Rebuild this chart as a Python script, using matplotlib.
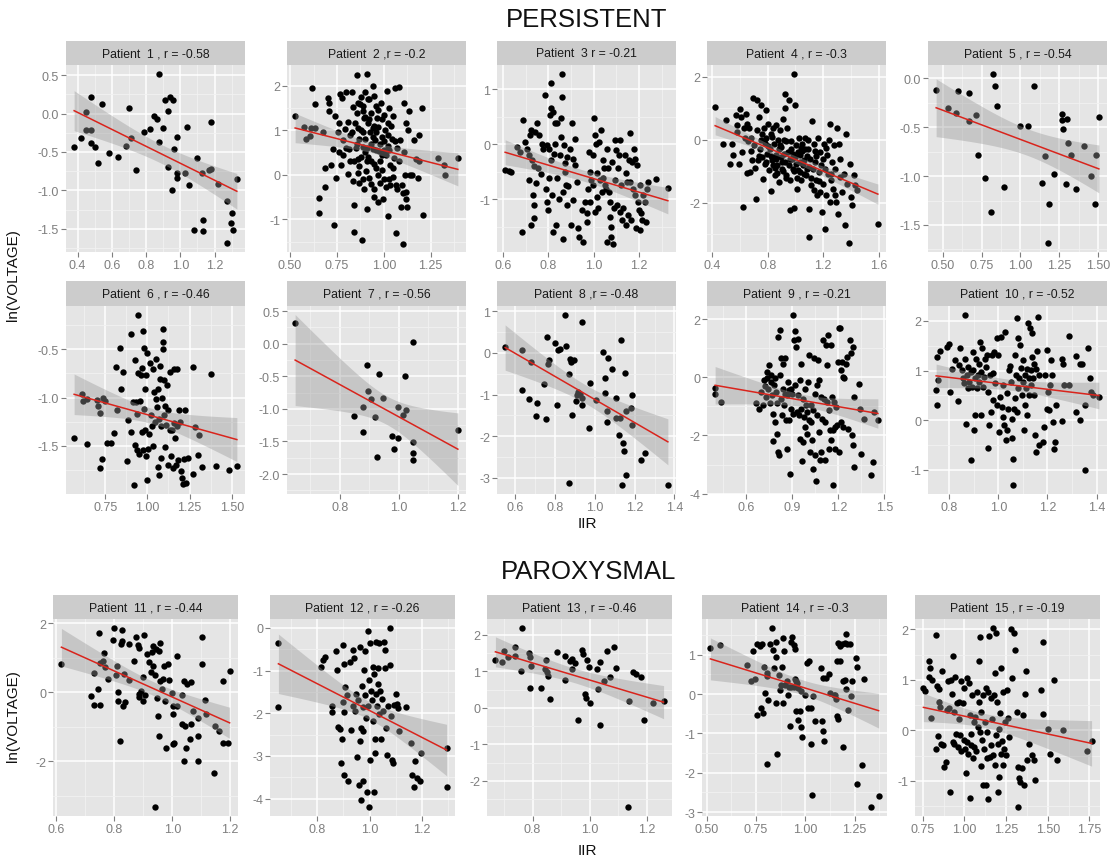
import numpy as np
import matplotlib
matplotlib.use("Agg")
import matplotlib.pyplot as plt

plt.rcParams['font.family'] = ['Liberation Sans', 'DejaVu Sans']

# ---------------- data (IIR, ln(VOLTAGE)) per patient ----------------
P01 = [(0.38,-0.43),(0.42,-0.32),(0.447,0.017),(0.447,-0.21),(0.48,0.21),(0.48,-0.21),(0.48,-0.38),
       (0.50,-0.43),(0.52,-0.64),(0.54,0.12),(0.585,-0.51),(0.634,-0.56),(0.683,-0.42),(0.70,0.07),
       (0.71,-0.32),(0.74,-0.73),(0.786,-0.24),(0.825,-0.20),(0.849,-0.03),(0.864,-0.07),(0.878,-0.375),
       (0.878,0.52),(0.90,-0.19),(0.913,0.18),(0.927,0.03),(0.942,0.21),(0.96,0.17),(0.964,-0.46),
       (0.983,-0.31),(0.927,-0.70),(0.983,-0.78),(0.983,-0.845),(0.954,-0.99),(1.026,-0.77),(1.04,-0.18),
       (1.05,-0.93),(1.08,-1.52),(1.10,-0.58),(1.124,-0.78),(1.13,-1.39),(1.13,-1.53),(1.167,-0.73),
       (1.18,-0.72),(1.18,-0.11),(1.22,-0.92),(1.27,-1.14),(1.30,-1.29),(1.295,-1.42),(1.305,-1.52),
       (1.27,-1.69),(1.33,-0.85)]
P02 = [(0.527,1.32),(0.573,1.08),(0.585,0.81),(0.61,1.04),(0.606,0.86),(0.633,1.05),(0.615,1.95),
       (0.635,1.58),(0.652,-0.52),(0.652,-0.85),(0.677,0.96),(0.688,-0.27),(0.70,1.73),(0.705,1.6),
       (0.71,1.42),(0.727,0.58),(0.688,0.15),(0.718,0.23),(0.736,-1.12),(0.74,1.31),(0.753,0.96),
       (0.745,-0.08),(0.766,1.81),(0.762,1.15),(0.77,0.23),(0.777,1.73),(0.784,0.77),(0.791,1.02),
       (0.80,1.85),(0.808,1.19),(0.816,0.58),(0.808,0.02),(0.819,0.32),(0.83,1.85),(0.83,0.96),
       (0.837,1.52),(0.833,-0.15),(0.839,-0.67),(0.842,-1.29),(0.848,1.15),(0.855,1.38),(0.855,2.23),
       (0.858,0.69),(0.863,0.35),(0.865,-0.19),(0.872,1.58),(0.879,1.0),(0.883,-1.46),(0.887,1.42),
       (0.89,0.62),(0.892,-0.31),(0.895,1.27),(0.90,1.85),(0.90,0.81),(0.904,0.08),(0.908,-0.77),
       (0.911,2.27),(0.913,1.15),(0.915,1.69),(0.918,0.4),(0.922,-0.08),(0.926,0.96),(0.93,1.38),
       (0.94,2.0),(0.943,0.58),(0.947,-0.31),(0.95,1.77),(0.954,0.77),(0.957,1.54),(0.96,0.15),
       (0.966,1.27),(0.97,1.08),(0.975,0.54),(0.98,-0.19),(0.984,1.62),(0.988,0.85),(0.993,0.45),
       (0.996,-0.54),(1.0,1.35),(1.007,1.0),(1.01,-0.27),(1.016,1.88),(1.02,0.65),(1.023,-0.92),
       (1.028,1.5),(1.032,0.23),(1.035,-0.23),(1.043,0.81),(1.05,1.31),(1.055,0.38),(1.06,1.94),
       (1.064,-0.23),(1.067,-1.31),(1.073,-0.31),(1.08,1.96),(1.087,0.77),(1.09,-0.73),(1.096,-0.23),
       (1.103,-1.54),(1.106,1.62),(1.11,0.5),(1.113,0.0),(1.117,-0.38),(1.12,1.15),(1.124,-0.73),
       (1.13,1.0),(1.135,1.42),(1.14,0.0),(1.15,0.0),(1.16,0.77),(1.17,0.35),(1.183,-0.08),
       (1.19,0.31),(1.19,0.9),(1.205,1.5),(1.209,-0.91),(1.29,0.38),(1.32,0.23),(1.324,0.0),
       (1.395,0.37),(0.86,1.62),(0.88,1.75),(0.89,1.55),(0.9,1.3),(0.92,1.7),(0.93,0.7),(0.95,1.1),
       (0.96,0.55),(0.97,1.45),(0.98,0.3),(0.99,1.25),(1.0,0.75),(1.02,1.15),(1.03,0.55),(0.82,0.9),
       (0.85,0.6),(0.86,1.05),(0.87,0.8),(0.88,0.4),(0.89,0.95),(0.91,0.6),(0.93,0.3),(0.94,1.05),
       (0.87,0.2),(0.89,-0.1),(0.91,0.3),(0.93,-0.2),(0.95,0.25),(0.97,0.0),(0.99,0.1),(1.01,0.45),
       (1.03,-0.1),(1.05,0.15),(1.07,0.6),(1.08,0.3),(0.92,1.25),(0.94,0.85),(0.96,0.95),(0.98,0.7),
       (1.0,0.55),(1.02,0.9),(1.04,1.1),(1.06,0.75),(0.84,0.3),(0.86,0.05),(0.9,0.5),(0.95,-0.5),
       (0.97,-0.6),(1.0,-0.1),(1.05,-0.05),(1.1,-0.4),(1.12,-0.55),(0.78,0.45),(0.8,0.6),(0.76,0.5)]
P03 = [(0.61,-0.47),(0.625,-0.49),(0.635,-0.50),(0.661,-0.05),(0.676,-0.14),(0.688,0.44),(0.683,-1.60),
       (0.698,0.04),(0.705,-0.08),(0.713,-0.20),(0.713,-0.65),(0.72,0.16),(0.723,0.26),(0.723,-1.47),
       (0.727,-0.29),(0.732,-0.93),(0.735,-1.11),(0.735,-1.35),(0.738,-0.39),(0.742,0.23),(0.746,-0.71),
       (0.752,0.38),(0.757,-0.44),(0.761,0.16),(0.767,-0.55),(0.771,0.01),(0.779,-0.08),(0.786,0.90),
       (0.789,-0.81),(0.793,-0.02),(0.796,-1.05),(0.80,-1.20),(0.803,-0.08),(0.805,-0.62),(0.808,0.53),
       (0.81,1.11),(0.81,0.67),(0.814,-0.29),(0.817,-0.92),(0.82,-1.60),(0.822,0.59),(0.825,-0.17),
       (0.828,0.01),(0.83,0.38),(0.834,-1.47),(0.837,-0.62),(0.84,0.38),(0.846,-0.99),(0.852,-0.20),
       (0.855,0.47),(0.858,0.13),(0.86,1.29),(0.86,0.87),(0.863,-1.72),(0.866,-0.87),(0.869,-0.02),
       (0.872,-0.35),(0.875,-0.50),(0.878,-0.74),(0.881,-1.11),(0.884,-0.23),(0.888,-0.77),(0.896,-0.08),
       (0.899,-1.47),(0.903,0.38),(0.907,-0.26),(0.91,-1.02),(0.916,0.10),(0.92,-0.38),(0.925,-0.68),
       (0.932,-1.53),(0.937,-1.69),(0.947,-1.20),(0.954,-1.78),(0.961,-1.05),(0.969,-1.41),(0.972,-1.26),
       (0.976,-0.81),(0.98,-0.14),(0.983,-0.50),(0.986,-1.05),(0.99,-0.65),(0.995,-0.20),(0.998,-0.74),
       (1.0,0.47),(1.004,-1.23),(1.005,0.17),(1.01,0.01),(1.013,-0.53),(1.016,-0.96),(1.018,-1.17),
       (1.024,0.04),(1.027,-0.65),(1.032,0.26),(1.035,-0.87),(1.039,-0.29),(1.042,-0.62),(1.045,-0.44),
       (1.049,-0.74),(1.054,-0.81),(1.057,-1.78),(1.06,-0.08),(1.064,-0.44),(1.068,-0.87),(1.071,-1.05),
       (1.074,-1.32),(1.077,-1.50),(1.078,-1.69),(1.083,-0.32),(1.086,-1.81),(1.089,-1.17),(1.092,0.07),
       (1.095,-0.65),(1.10,-0.11),(1.103,-1.11),(1.108,-0.44),(1.112,-0.20),(1.115,0.07),(1.118,-1.23),
       (1.122,-0.74),(1.127,-1.38),(1.13,-1.17),(1.137,-0.20),(1.142,-0.53),(1.144,-1.47),(1.147,-0.68),
       (1.152,-1.29),(1.156,-0.29),(1.159,0.20),(1.162,-0.68),(1.166,-1.38),(1.171,-0.32),(1.174,-0.81),
       (1.177,-0.08),(1.18,-0.93),(1.182,-0.26),(1.188,-1.53),(1.191,-0.38),(1.194,-1.05),(1.199,-1.20),
       (1.203,-1.56),(1.206,-0.74),(1.21,-1.26),(1.215,-1.38),(1.218,-0.93),(1.225,-1.05),(1.232,-1.41),
       (1.237,-0.81),(1.24,-0.68),(1.276,-0.64),(1.327,-0.79)]
P04 = [(0.42,1.03),(0.477,-0.12),(0.50,0.62),(0.527,-0.76),(0.544,-0.12),(0.55,-0.49),(0.568,0.80),
       (0.575,0.46),(0.58,0.25),(0.592,-0.76),(0.60,0.99),(0.61,0.73),(0.616,-0.39),(0.623,-2.14),
       (0.628,0.36),(0.633,0.05),(0.64,0.83),(0.647,0.51),(0.652,-1.05),(0.657,-0.05),(0.664,0.36),
       (0.671,-1.02),(0.676,0.05),(0.68,-0.37),(0.688,-0.65),(0.695,1.33),(0.70,-0.18),(0.705,-0.9),
       (0.712,-1.87),(0.719,1.26),(0.724,0.30),(0.729,-0.65),(0.736,0.73),(0.743,-0.28),(0.748,1.12),
       (0.753,0.0),(0.76,-0.55),(0.765,-1.24),(0.772,0.36),(0.777,-0.76),(0.784,0.94),(0.789,0.05),
       (0.796,-0.44),(0.80,0.51),(0.808,-0.97),(0.815,-0.28),(0.82,0.17),(0.825,-1.64),(0.832,-0.65),
       (0.839,0.36),(0.844,-0.12),(0.849,-1.13),(0.856,-0.47),(0.863,0.46),(0.868,-0.81),(0.873,0.0),
       (0.88,-1.34),(0.887,0.30),(0.892,-0.55),(0.897,-0.23),(0.904,-0.92),(0.911,0.67),(0.916,0.0),
       (0.921,1.47),(0.923,1.01),(0.928,-0.71),(0.935,-1.13),(0.94,0.36),(0.945,-0.39),(0.952,1.26),
       (0.957,-1.29),(0.964,-2.24),(0.969,-0.05),(0.976,-0.60),(0.983,-0.92),(0.988,-2.17),(0.993,2.11),
       (0.998,1.10),(1.002,-0.18),(1.007,-0.76),(1.012,-1.55),(1.017,-0.39),(1.024,0.05),(1.031,-1.02),
       (1.036,-0.49),(1.043,-1.29),(1.048,-0.12),(1.055,-0.81),(1.06,-0.65),(1.067,0.05),(1.072,-0.28),
       (1.079,-1.13),(1.084,-0.92),(1.089,0.0),(1.096,-2.19),(1.10,-3.09),(1.108,-0.60),(1.113,-1.45),
       (1.12,0.59),(1.125,-0.92),(1.132,-1.61),(1.137,-0.12),(1.144,-0.71),(1.151,-1.29),(1.156,-1.77),
       (1.161,0.05),(1.168,-1.02),(1.175,-1.66),(1.18,-0.39),(1.185,-0.81),(1.192,-2.30),(1.199,-1.40),
       (1.204,-0.12),(1.211,-2.83),(1.216,-0.92),(1.223,-1.77),(1.228,-0.49),(1.235,-1.08),(1.24,0.0),
       (1.247,-1.98),(1.252,0.51),(1.257,-1.29),(1.264,-0.71),(1.271,-1.55),(1.276,-0.18),(1.283,-1.77),
       (1.288,-0.92),(1.295,-1.98),(1.30,0.36),(1.307,-2.35),(1.312,-0.12),(1.319,-1.18),(1.324,-0.60),
       (1.336,-1.66),(1.348,-1.08),(1.36,-2.72),(1.367,0.20),(1.372,-1.40),(1.384,-3.3),(1.391,-0.76),
       (1.40,-1.82),(1.41,-2.08),(1.42,-1.13),(1.432,-1.45),(1.444,-1.61),(1.595,-2.67),
       (0.78,-0.1),(0.82,-0.5),(0.85,-0.9),(0.88,-0.3),(0.9,-0.7),(0.92,-0.45),(0.95,-0.8),(0.97,-0.3),
       (0.99,-1.0),(1.0,-0.55),(1.03,-0.7),(1.05,-0.35),(1.08,-0.5),(1.1,-0.85),(1.15,-0.5),(1.2,-0.6),
       (0.86,-0.6),(0.91,-1.0),(0.96,-0.6),(1.01,-1.2),(0.74,-0.5),(0.8,-0.2),(0.84,-0.8),(0.93,-1.2),
       (0.76,0.2),(0.79,-0.7),(0.83,0.1),(0.87,-1.05),(0.89,-0.15),(0.93,-0.05),(0.98,-0.45),(1.02,-0.95),
       (1.04,-0.25),(1.06,-1.1),(1.09,-0.3),(1.11,-1.2),(1.14,-0.35),(1.17,-1.3),(1.22,-0.25),(1.26,-1.1)]
P05 = [(0.457,-0.12),(0.532,-0.30),(0.582,-0.35),(0.597,-0.13),(0.668,-0.15),(0.668,-0.44),(0.711,-0.375),
       (0.726,-0.78),(0.775,-1.02),(0.812,-1.37),(0.823,0.05),(0.838,-0.075),(0.85,-0.28),(0.894,-1.11),
       (0.999,-0.49),(1.048,-0.49),(1.091,-0.075),(1.139,-1.07),(1.156,-0.79),(1.182,-1.29),(1.177,-1.69),
       (1.216,-0.98),(1.268,-0.36),(1.268,-0.43),(1.30,-0.42),(1.278,-0.52),(1.306,-0.66),(1.291,-1.08),
       (1.328,-0.78),(1.36,-1.13),(1.408,-0.69),(1.457,-1.0),(1.485,-0.78),(1.483,-1.285),(1.506,-0.40)]
P06 = [(0.566,-1.42),(0.612,-0.96),(0.618,-1.04),(0.645,-1.01),(0.645,-1.48),(0.704,-1.03),(0.707,-1.09),
       (0.717,-1.16),(0.72,-1.73),(0.73,-1.64),(0.735,-1.0),(0.746,-1.04),(0.763,-1.47),(0.785,-1.47),
       (0.80,-1.37),(0.812,-0.68),(0.819,-1.13),(0.839,-0.49),(0.843,-0.91),(0.858,-0.73),(0.878,-1.66),
       (0.888,-1.23),(0.902,-0.34),(0.904,-1.36),(0.914,-1.05),(0.918,-1.91),(0.924,-1.49),(0.928,-0.61),
       (0.934,-1.05),(0.938,-1.54),(0.941,-1.17),(0.943,-0.75),(0.947,-0.14),(0.953,-1.58),(0.957,-1.04),
       (0.96,-0.77),(0.967,-1.36),(0.97,-0.69),(0.972,-1.54),(0.976,-0.31),(0.978,-1.12),(0.98,-0.49),
       (0.984,-1.34),(0.986,-0.91),(0.99,-1.60),(0.994,-0.77),(0.996,-1.85),(1.0,-0.54),(1.006,-1.53),
       (1.01,-1.38),(1.013,-0.64),(1.022,-1.18),(1.026,-1.29),(1.032,-1.50),(1.036,-0.70),(1.04,-0.94),
       (1.046,-1.25),(1.05,-0.60),(1.052,-1.01),(1.056,-1.10),(1.06,-1.72),(1.064,-0.91),(1.066,-1.22),
       (1.07,-1.80),(1.072,-0.67),(1.076,-0.81),(1.08,-1.63),(1.082,-1.29),(1.086,-1.0),(1.09,-0.50),
       (1.092,-0.42),(1.094,-0.29),(1.096,-1.18),(1.10,-0.82),(1.104,-1.09),(1.107,-1.51),(1.111,-1.28),
       (1.115,-0.87),(1.121,-1.13),(1.125,-1.70),(1.131,-1.34),(1.135,-0.74),(1.139,-1.60),(1.145,-1.34),
       (1.149,-1.73),(1.155,-0.70),(1.159,-1.26),(1.164,-1.42),(1.168,-1.70),(1.174,-0.70),(1.178,-1.29),
       (1.184,-1.65),(1.188,-1.13),(1.194,-1.25),(1.198,-1.76),(1.204,-1.83),(1.21,-1.89),(1.214,-1.64),
       (1.224,-1.13),(1.23,-1.88),(1.243,-1.63),(1.27,-1.79),(1.273,-0.68),(1.283,-1.30),(1.297,-1.59),
       (1.308,-1.39),(1.322,-1.72),(1.376,-0.76),(1.408,-1.71),(1.486,-1.75),(1.53,-1.71)]
P07 = [(0.648,0.32),(0.892,-0.33),(0.896,-0.72),(0.904,-0.85),(0.879,-0.97),(0.846,-1.11),(0.918,-1.13),
       (0.932,-0.47),(0.945,-0.84),(0.879,-1.36),(0.926,-1.74),(0.977,-1.42),(0.983,-1.62),(0.998,-1.45),
       (0.996,-0.97),(1.013,-1.09),(1.024,-1.01),(1.022,-0.49),(1.049,0.03),(1.049,-1.51),(1.047,-1.67),
       (1.047,-1.79),(1.20,-1.32)]
P08 = [(0.55,0.14),(0.637,0.06),(0.633,-0.88),(0.68,-0.22),(0.672,-1.11),(0.712,-1.20),(0.705,-1.52),
       (0.745,-0.75),(0.755,-1.58),(0.758,0.38),(0.767,-0.26),(0.772,-0.16),(0.80,0.24),(0.808,-1.24),
       (0.817,0.06),(0.825,0.10),(0.85,0.92),(0.855,0.16),(0.872,-0.50),(0.872,-3.12),(0.878,-0.14),
       (0.883,-0.22),(0.888,-1.50),(0.895,-0.16),(0.905,-1.16),(0.912,-1.0),(0.917,-0.94),(0.925,-0.98),
       (0.937,-1.08),(0.937,-1.26),(0.938,0.73),(0.97,-1.79),(0.978,-0.72),(1.005,-1.12),(1.042,0.02),
       (1.05,-0.96),(1.053,-0.60),(1.065,-0.13),(1.063,-1.40),(1.062,-1.65),(1.088,-0.39),(1.108,-1.08),
       (1.108,-1.57),(1.122,-1.98),(1.125,-1.56),(1.133,0.30),(1.142,-2.17),(1.145,-2.35),(1.138,-3.18),
       (1.15,-0.48),(1.158,-1.40),(1.158,-2.93),(1.183,-1.32),(1.187,-1.0),(1.188,-1.73),(1.233,-2.56),
       (1.25,-2.41),(1.367,-3.18)]
P09 = [(0.40,-0.37),(0.40,-0.56),(0.438,-0.85),(0.665,-0.87),(0.686,-1.08),(0.697,-0.50),(0.708,-0.96),
       (0.719,-0.09),(0.723,-0.29),(0.73,-0.68),(0.736,0.20),(0.74,-0.03),(0.745,-0.39),(0.751,0.44),
       (0.758,-0.90),(0.762,-0.15),(0.766,0.08),(0.771,-0.62),(0.775,-1.25),(0.779,-2.20),(0.783,-0.25),
       (0.788,-0.03),(0.792,-1.54),(0.796,-0.50),(0.80,-1.94),(0.805,-0.90),(0.81,-2.57),(0.811,1.39),
       (0.816,-2.68),(0.82,0.08),(0.822,1.62),(0.827,-0.73),(0.83,0.65),(0.835,-1.31),(0.84,0.47),
       (0.844,-0.39),(0.848,-0.96),(0.853,0.65),(0.857,-0.56),(0.861,-1.48),(0.866,-2.45),(0.87,-0.62),
       (0.874,-0.16),(0.878,-1.48),(0.883,-0.45),(0.887,-3.32),(0.891,-0.39),(0.896,-1.08),(0.90,-0.56),
       (0.904,2.16),(0.909,-1.25),(0.913,1.28),(0.917,1.59),(0.922,-0.27),(0.926,1.05),(0.93,-1.19),
       (0.935,1.33),(0.939,-0.62),(0.943,-1.31),(0.948,-2.11),(0.952,-0.10),(0.956,0.47),(0.96,-1.08),
       (0.965,-2.89),(0.969,-0.73),(0.973,-2.22),(0.978,-1.36),(0.982,-0.39),(0.986,-1.71),(0.99,-0.96),
       (0.995,-1.94),(0.999,-1.19),(1.004,-0.16),(1.008,-1.48),(1.012,0.76),(1.017,-2.57),(1.021,-0.96),
       (1.025,-1.54),(1.03,-2.17),(1.034,-3.14),(1.038,-1.13),(1.043,0.65),(1.047,-0.56),(1.051,-2.68),
       (1.055,-3.55),(1.06,-1.28),(1.064,-0.27),(1.068,0.59),(1.073,-1.88),(1.077,-0.10),(1.081,-2.86),
       (1.086,-0.67),(1.09,-2.57),(1.096,-1.42),(1.103,1.28),(1.107,-0.73),(1.112,-2.86),(1.116,-1.54),
       (1.12,1.10),(1.124,0.41),(1.129,-0.85),(1.133,1.45),(1.137,-2.45),(1.142,-1.13),(1.146,-1.82),
       (1.15,1.10),(1.155,-2.17),(1.159,-0.67),(1.163,-1.82),(1.168,-3.72),(1.172,-0.85),(1.176,-2.45),
       (1.181,-1.71),(1.185,-1.02),(1.194,-1.65),(1.198,0.53),(1.202,1.68),(1.206,-2.57),(1.211,1.70),
       (1.215,-1.54),(1.22,0.24),(1.224,0.53),(1.228,-1.71),(1.232,0.02),(1.237,-0.04),(1.248,0.47),
       (1.258,0.70),(1.263,-1.77),(1.276,1.28),(1.28,0.82),(1.287,-2.0),(1.293,-2.34),(1.297,1.05),
       (1.30,-0.68),(1.30,-3.09),(1.334,-0.22),(1.34,-1.08),(1.349,-2.63),(1.366,-1.42),(1.414,-3.37),
       (1.427,-2.91),(1.435,-1.19),(1.457,-1.48)]
P10 = [(0.75,1.28),(0.753,0.81),(0.75,0.31),(0.747,0.60),(0.764,1.39),(0.80,1.53),(0.79,1.48),(0.804,0.57),
       (0.811,1.04),(0.824,1.21),(0.834,0.38),(0.842,1.12),(0.845,1.45),(0.851,1.01),(0.855,0.84),
       (0.861,0.74),(0.865,2.13),(0.866,1.24),(0.869,-0.07),(0.872,0.91),(0.876,0.64),(0.878,1.08),
       (0.882,0.77),(0.888,0.98),(0.889,-0.81),(0.892,0.67),(0.896,1.01),(0.899,1.37),(0.901,-0.2),
       (0.904,0.84),(0.907,0.10),(0.91,1.24),(0.912,0.64),(0.916,0.91),(0.92,1.14),(0.923,0.77),
       (0.926,1.58),(0.928,0.10),(0.931,0.98),(0.934,1.45),(0.936,0.67),(0.942,0.87),(0.946,1.24),
       (0.95,1.08),(0.953,1.31),(0.957,-0.56),(0.959,0.57),(0.962,-0.1),(0.966,0.91),(0.969,0.17),
       (0.973,1.31),(0.977,0.40),(0.98,0.94),(0.984,1.38),(0.986,0.74),(0.993,0.31),(0.996,1.66),
       (1.0,1.31),(1.004,-0.24),(1.007,0.47),(1.011,1.68),(1.014,0.27),(1.018,0.07),(1.02,0.71),
       (1.024,-0.1),(1.027,1.78),(1.03,-0.41),(1.034,0.54),(1.036,-0.2),(1.04,0.23),(1.045,1.01),
       (1.047,1.10),(1.051,0.77),(1.054,0.02),(1.057,-0.37),(1.058,-1.32),(1.061,-0.78),(1.064,0.23),
       (1.066,0.44),(1.069,1.31),(1.072,0.91),(1.074,0.17),(1.077,2.07),(1.08,1.65),(1.082,0.64),
       (1.085,0.84),(1.088,1.51),(1.091,1.06),(1.095,0.50),(1.099,1.21),(1.101,0.77),(1.104,-0.2),
       (1.107,0.30),(1.109,0.91),(1.112,0.64),(1.115,0.10),(1.118,1.04),(1.12,1.95),(1.123,0.50),
       (1.126,0.84),(1.128,1.85),(1.131,1.01),(1.134,0.71),(1.136,1.28),(1.139,1.75),(1.142,0.84),
       (1.145,1.14),(1.147,0.50),(1.15,-0.31),(1.153,1.04),(1.155,-0.64),(1.158,1.39),(1.161,2.09),
       (1.164,-0.51),(1.166,0.91),(1.182,-0.44),(1.185,-0.14),(1.189,0.91),(1.196,0.23),(1.20,1.41),
       (1.204,0.57),(1.207,0.20),(1.209,0.71),(1.216,1.21),(1.22,0.91),(1.223,-0.03),(1.226,-0.58),
       (1.23,-0.44),(1.236,0.30),(1.261,1.24),(1.261,-0.02),(1.264,1.14),(1.266,0.71),(1.288,1.70),
       (1.288,0.71),(1.318,1.30),(1.318,0.17),(1.331,1.14),(1.334,0.0),(1.342,1.14),(1.351,-1.0),
       (1.351,0.30),(1.365,1.45),(1.374,0.84),(1.378,0.57),(1.385,0.50),(1.409,0.47)]
P11 = [(0.617,0.82),(0.72,-0.10),(0.73,0.55),(0.73,-0.37),(0.743,0.10),(0.746,1.71),(0.751,-0.37),
       (0.749,0.83),(0.765,1.13),(0.761,0.91),(0.768,0.72),(0.779,0.38),(0.795,1.50),(0.798,1.86),
       (0.81,0.77),(0.807,0.50),(0.813,0.01),(0.812,-0.25),(0.82,-1.42),(0.822,1.40),(0.828,1.79),
       (0.828,1.48),(0.834,0.52),(0.83,-0.40),(0.837,-0.30),(0.849,1.40),(0.852,0.35),(0.868,0.91),
       (0.873,1.59),(0.883,1.38),(0.885,1.28),(0.885,-0.05),(0.885,-0.14),(0.893,0.02),(0.898,-0.25),
       (0.90,0.45),(0.904,1.66),(0.907,-0.07),(0.913,1.11),(0.92,0.86),(0.926,0.57),(0.929,1.16),
       (0.932,1.35),(0.934,0.77),(0.94,-3.33),(0.941,0.50),(0.944,1.25),(0.948,-0.16),(0.95,-0.69),
       (0.954,1.18),(0.956,1.42),(0.954,-1.27),(0.959,0.33),(0.963,0.08),(0.968,0.38),(0.974,-0.25),
       (0.971,0.77),(0.98,-1.61),(0.984,0.82),(0.99,0.35),(0.999,-0.02),(1.002,-1.51),(1.005,-1.47),
       (1.001,-0.40),(1.001,-0.62),(1.015,-0.40),(1.017,1.06),(1.032,-0.07),(1.035,-0.93),(1.04,0.33),
       (1.04,-2.0),(1.045,-0.98),(1.048,-1.61),(1.051,0.23),(1.062,-1.37),(1.066,-0.93),(1.066,0.28),
       (1.07,-0.54),(1.088,-2.0),(1.088,-1.27),(1.09,-0.74),(1.102,1.59),(1.102,0.82),(1.112,-0.22),
       (1.117,-0.62),(1.145,-2.34),(1.149,-0.98),(1.16,-1.13),(1.176,0.31),(1.174,-1.47),(1.194,-1.47),
       (1.198,0.62)]
P12 = [(0.651,-0.36),(0.651,-1.86),(0.816,-0.91),(0.82,-0.74),(0.83,-0.67),(0.855,-1.82),(0.855,-1.98),
       (0.871,-0.55),(0.874,-0.99),(0.879,-2.32),(0.892,-3.17),(0.888,-2.38),(0.895,-2.61),(0.90,-0.40),
       (0.90,-1.74),(0.901,-1.98),(0.901,-3.45),(0.903,-0.85),(0.905,-1.39),(0.912,-1.58),(0.919,-3.60),
       (0.925,-0.79),(0.929,-2.40),(0.936,-1.82),(0.938,-0.51),(0.942,-0.71),(0.946,-1.94),(0.949,-1.54),
       (0.953,-3.03),(0.956,-1.69),(0.96,-3.68),(0.963,-0.44),(0.965,-2.65),(0.967,-2.34),(0.969,-4.04),
       (0.971,-1.35),(0.974,-1.85),(0.976,-2.42),(0.976,-3.60),(0.979,-0.99),(0.982,-1.58),(0.983,-0.55),
       (0.987,-2.10),(0.99,-3.84),(0.993,-0.08),(0.994,-1.82),(0.997,-1.23),(0.998,-4.20),(1.0,-3.09),
       (1.003,-0.36),(1.006,-1.47),(1.009,-1.70),(1.012,-0.91),(1.014,-2.18),(1.017,-1.07),(1.017,-3.84),
       (1.02,-2.93),(1.022,-2.61),(1.024,-0.32),(1.025,-1.54),(1.028,-1.82),(1.031,-0.95),(1.033,-1.31),
       (1.036,-0.36),(1.037,-2.02),(1.041,-1.47),(1.044,-2.61),(1.047,-1.66),(1.051,-1.94),(1.055,-0.34),
       (1.058,-0.51),(1.06,-0.95),(1.064,-2.34),(1.068,-2.97),(1.071,-1.82),(1.077,-0.87),(1.078,0.0),
       (1.082,-2.06),(1.085,-3.09),(1.089,-3.17),(1.095,-1.80),(1.101,-1.54),(1.105,-1.78),(1.109,-1.88),
       (1.112,-2.42),(1.139,-1.85),(1.159,-2.69),(1.163,-3.45),(1.169,-3.72),(1.173,-3.11),(1.18,-3.52),
       (1.193,-3.60),(1.196,-2.93),(1.295,-2.81),(1.295,-3.74)]
P13 = [(0.67,1.31),(0.692,1.27),(0.70,1.55),(0.713,1.38),(0.737,1.68),(0.737,1.43),(0.763,2.19),
       (0.761,1.01),(0.788,1.49),(0.79,1.38),(0.793,1.15),(0.79,0.55),(0.828,0.55),(0.848,1.31),
       (0.844,1.06),(0.85,0.97),(0.854,0.88),(0.86,0.23),(0.885,1.52),(0.915,1.43),(0.915,0.76),
       (0.931,1.29),(0.939,1.34),(0.937,1.06),(0.95,1.24),(0.96,-0.34),(0.972,1.59),(0.977,1.47),
       (0.982,0.37),(0.987,0.28),(0.991,1.31),(0.997,1.12),(1.0,0.14),(1.024,1.06),(1.028,0.53),
       (1.034,1.27),(1.034,-0.46),(1.049,0.74),(1.059,1.55),(1.071,0.85),(1.086,1.68),(1.092,1.09),
       (1.138,0.18),(1.151,0.97),(1.163,0.92),(1.179,0.85),(1.188,-0.34),(1.134,-2.72),(1.221,0.14),
       (1.258,0.20)]
P14 = [(0.518,1.17),(0.569,1.24),(0.703,0.74),(0.725,0.34),(0.734,1.09),(0.746,0.39),(0.757,1.26),
       (0.757,-0.53),(0.77,1.21),(0.776,-0.36),(0.78,1.26),(0.783,-0.49),(0.788,0.70),(0.797,0.03),
       (0.803,0.53),(0.807,-1.77),(0.807,0.45),(0.812,-0.14),(0.819,1.26),(0.83,1.68),(0.838,1.13),
       (0.843,0.66),(0.849,0.93),(0.852,1.32),(0.852,-0.23),(0.858,-1.51),(0.867,0.49),(0.87,0.11),
       (0.874,0.23),(0.88,0.70),(0.885,1.43),(0.889,-0.23),(0.892,1.10),(0.898,0.23),(0.907,0.34),
       (0.912,-0.02),(0.916,0.19),(0.922,-0.80),(0.925,1.32),(0.929,0.17),(0.934,1.44),(0.94,1.24),
       (0.943,0.17),(0.947,1.15),(0.949,0.39),(0.953,0.32),(0.953,-0.44),(0.958,0.28),(0.962,-0.66),
       (0.965,0.15),(0.971,-0.44),(0.976,0.09),(0.98,-0.83),(0.985,-1.09),(0.998,-0.03),(1.007,0.79),
       (1.013,-0.36),(1.02,0.83),(1.029,-1.28),(1.031,-0.36),(1.035,-2.56),(1.04,-0.06),(1.05,-0.68),
       (1.08,0.66),(1.085,-0.68),(1.089,0.40),(1.089,-0.94),(1.093,-1.19),(1.104,0.42),(1.122,0.51),
       (1.126,0.04),(1.144,-0.02),(1.153,-0.03),(1.157,-0.12),(1.162,0.85),(1.162,-0.55),(1.168,1.31),
       (1.168,-0.63),(1.177,1.23),(1.177,0.85),(1.184,1.27),(1.19,0.32),(1.19,-1.34),(1.199,1.30),
       (1.202,0.36),(1.208,1.53),(1.208,0.14),(1.214,1.26),(1.217,-0.40),(1.226,1.26),(1.232,-0.06),
       (1.235,0.32),(1.259,0.91),(1.263,0.70),(1.263,-2.28),(1.29,-1.79),(1.30,0.39),(1.332,-2.87),
       (1.372,-2.59)]
P15 = [(0.754,0.84),(0.765,0.79),(0.786,1.05),(0.79,1.37),(0.793,1.24),(0.797,0.24),(0.808,1.0),
       (0.829,1.90),(0.829,-0.36),(0.833,0.87),(0.84,-0.12),(0.846,0.82),(0.85,0.57),(0.854,0.47),
       (0.861,-0.27),(0.867,1.17),(0.872,-0.30),(0.878,-0.72),(0.889,-0.62),(0.897,0.41),(0.903,0.97),
       (0.91,0.44),(0.914,-1.22),(0.918,1.0),(0.925,0.72),(0.929,1.47),(0.931,-0.23),(0.935,0.37),
       (0.94,-0.27),(0.946,1.06),(0.95,-0.07),(0.957,0.54),(0.961,-0.33),(0.965,0.57),(0.967,0.23),
       (0.974,-0.10),(0.978,0.97),(0.982,-0.40),(0.989,0.54),(0.995,-0.20),(0.999,0.84),(1.004,-0.36),
       (1.01,-0.85),(1.014,1.04),(1.017,-0.23),(1.021,-0.46),(1.025,0.94),(1.031,0.31),(1.036,-1.35),
       (1.038,-0.30),(1.042,-0.07),(1.046,0.71),(1.051,-0.55),(1.055,0.17),(1.059,-0.33),(1.063,0.27),
       (1.068,-0.40),(1.074,0.77),(1.08,0.07),(1.085,0.57),(1.089,1.38),(1.091,-0.03),(1.095,1.85),
       (1.10,-0.70),(1.102,0.37),(1.106,-0.20),(1.11,-1.09),(1.114,0.71),(1.117,-0.36),(1.123,0.17),
       (1.127,0.84),(1.132,-1.09),(1.136,-0.03),(1.138,-0.55),(1.14,-1.37),(1.144,0.77),(1.149,1.87),
       (1.153,-0.52),(1.157,0.64),(1.161,-0.30),(1.166,0.23),(1.17,2.03),(1.174,-0.49),(1.178,0.71),
       (1.181,-0.69),(1.183,1.14),(1.187,-0.10),(1.191,1.93),(1.195,0.57),(1.20,-0.27),(1.202,-1.22),
       (1.206,-0.92),(1.208,0.03),(1.213,0.34),(1.217,-0.46),(1.221,1.24),(1.225,-0.22),(1.23,-0.69),
       (1.234,0.77),(1.238,-0.36),(1.245,0.17),(1.251,-0.49),(1.255,0.81),(1.262,0.24),(1.268,-0.13),
       (1.277,2.0),(1.287,1.04),(1.298,1.93),(1.304,1.60),(1.315,0.37),(1.319,-0.72),(1.324,-1.52),
       (1.33,-0.95),(1.336,-1.02),(1.345,-0.75),(1.351,0.31),(1.358,-1.09),(1.362,0.72),(1.368,1.17),
       (1.374,-0.58),(1.39,-0.27),(1.404,-0.49),(1.415,-0.59),(1.421,-0.99),(1.458,0.81),(1.469,1.75),
       (1.473,0.33),(1.501,0.02),(1.515,-0.46),(1.537,1.0),(1.558,-0.58),(1.59,0.0),(1.735,-0.40),
       (1.763,-0.22)]

patients = [P01, P02, P03, P04, P05, P06, P07, P08, P09, P10, P11, P12, P13, P14, P15]

strip_labels = ["Patient  1 , r = -0.58", "Patient  2 ,r = -0.2", "Patient  3 r = -0.21",
                "Patient  4 , r = -0.3", "Patient  5 , r = -0.54", "Patient  6 , r = -0.46",
                "Patient  7 , r = -0.56", "Patient  8 ,r = -0.48", "Patient  9 , r = -0.21",
                "Patient  10 , r = -0.52", "Patient  11 , r = -0.44", "Patient  12 , r = -0.26",
                "Patient  13 , r = -0.46", "Patient  14 , r = -0.3", "Patient  15 , r = -0.19"]

x_tick_labels = [["0.4", "0.6", "0.8", "1.0", "1.2"], ["0.50", "0.75", "1.00", "1.25"],
                 ["0.6", "0.8", "1.0", "1.2"], ["0.4", "0.8", "1.2", "1.6"],
                 ["0.50", "0.75", "1.00", "1.25", "1.50"], ["0.75", "1.00", "1.25", "1.50"],
                 ["0.8", "1.0", "1.2"], ["0.6", "0.8", "1.0", "1.2", "1.4"],
                 ["0.6", "0.9", "1.2", "1.5"], ["0.8", "1.0", "1.2", "1.4"],
                 ["0.6", "0.8", "1.0", "1.2"], ["0.8", "1.0", "1.2"], ["0.8", "1.0", "1.2"],
                 ["0.50", "0.75", "1.00", "1.25"], ["0.75", "1.00", "1.25", "1.50", "1.75"]]
y_tick_labels = [["-1.5", "-1.0", "-0.5", "0.0", "0.5"], ["-1", "0", "1", "2"], ["-1", "0", "1"],
                 ["-2", "0", "2"], ["-1.5", "-1.0", "-0.5", "0.0"], ["-1.5", "-1.0", "-0.5"],
                 ["-2.0", "-1.5", "-1.0", "-0.5", "0.0", "0.5"], ["-3", "-2", "-1", "0", "1"],
                 ["-4", "-2", "0", "2"], ["-1", "0", "1", "2"], ["-2", "0", "2"],
                 ["-4", "-3", "-2", "-1", "0"], ["-2", "-1", "0", "1", "2"],
                 ["-3", "-2", "-1", "0", "1"], ["-1", "0", "1", "2"]]

titles = ["PERSISTENT", "PAROXYSMAL"]
x_title = "IIR"
y_title = "ln(VOLTAGE)"

# ---------------- layout (pixels) ----------------
W, H = 1118, 862
fig = plt.figure(figsize=(W / 100, H / 100), dpi=100)
fig.patch.set_facecolor("white")

row_boxes = [  # (strip_top, plot_top, plot_bottom)
    (42, 66, 253),
    (282, 307, 495),
    (596, 620, 817),
]
col_lefts = [[66, 287, 497, 707, 928], [66, 287, 497, 707, 928], [53, 270, 487, 702, 915]]
col_widths = [179, 179, 185]

PANEL_BG = "#E5E5E5"
STRIP_BG = "#CCCCCC"
AX_GREY = "#7F7F7F"


def px_axes(x0, y0, x1, y1):
    return fig.add_axes([x0 / W, 1 - y1 / H, (x1 - x0) / W, (y1 - y0) / H])


def t975(df):
    z = 1.959964
    return (z + (z**3 + z) / (4 * df) + (5 * z**5 + 16 * z**3 + 3 * z) / (96 * df**2)
            + (3 * z**7 + 19 * z**5 + 17 * z**3 - 15 * z) / (384 * df**3))


def minor_from(breaks, lo, hi):
    step = breaks[1] - breaks[0]
    cand = [breaks[0] - step / 2] + [b + step / 2 for b in breaks]
    return [c for c in cand if lo <= c <= hi]


for i, pts in enumerate(patients):
    row, col = divmod(i, 5)
    st, pt, pb = row_boxes[row]
    x0 = col_lefts[row][col]
    x1 = x0 + col_widths[row]

    # strip
    axs = px_axes(x0, st, x1, pt)
    axs.set_facecolor(STRIP_BG)
    axs.set_xticks([]); axs.set_yticks([])
    for s in axs.spines.values():
        s.set_visible(False)
    axs.text(0.5, 0.48, strip_labels[i], ha="center", va="center", fontsize=8.8,
             color="#1A1A1A", transform=axs.transAxes)

    # panel
    ax = px_axes(x0, pt, x1, pb)
    ax.set_facecolor(PANEL_BG)
    for s in ax.spines.values():
        s.set_visible(False)

    arr = np.array(pts)
    x, y = arr[:, 0], arr[:, 1]
    ax.scatter(x, y, s=21, color="black", linewidths=0, zorder=3)

    # linear fit + 95% confidence band (as geom_smooth(method = "lm"))
    n = len(x)
    b1, b0 = np.polyfit(x, y, 1)
    resid = y - (b0 + b1 * x)
    s_err = np.sqrt(np.sum(resid**2) / (n - 2))
    xg = np.linspace(x.min(), x.max(), 80)
    yg = b0 + b1 * xg
    se = s_err * np.sqrt(1 / n + (xg - x.mean())**2 / np.sum((x - x.mean())**2))
    tq = t975(n - 2)
    ax.fill_between(xg, yg - tq * se, yg + tq * se, color="#999999", alpha=0.4,
                    linewidth=0, zorder=4)
    ax.plot(xg, yg, color="#D9241C", linewidth=1.1, zorder=5)

    ax.margins(x=0.05, y=0.05)
    ax.autoscale_view()
    xlo, xhi = ax.get_xlim()
    ylo, yhi = ax.get_ylim()

    xb = [float(v) for v in x_tick_labels[i]]
    yb = [float(v) for v in y_tick_labels[i]]
    ax.set_xticks(xb)
    ax.set_xticklabels(x_tick_labels[i])
    ax.set_yticks(yb)
    ax.set_yticklabels(y_tick_labels[i])
    ax.set_xticks(minor_from(xb, xlo, xhi), minor=True)
    ax.set_yticks(minor_from(yb, ylo, yhi), minor=True)
    ax.set_xlim(xlo, xhi)
    ax.set_ylim(ylo, yhi)

    ax.grid(which="major", color="white", linewidth=1.1, zorder=0)
    ax.grid(which="minor", color="#F2F2F2", linewidth=0.6, zorder=0)
    ax.set_axisbelow(True)
    ax.tick_params(which="major", length=3.5, width=0.8, color=AX_GREY, labelcolor=AX_GREY,
                   labelsize=9, pad=1.5)
    ax.tick_params(which="minor", length=0)

# titles and axis labels
fig.text(587 / W, 1 - 20 / H, titles[0], ha="center", va="center", fontsize=18.5, color="#111111")
fig.text(589 / W, 1 - 572 / H, titles[1], ha="center", va="center", fontsize=18.5, color="#111111")
fig.text(587 / W, 1 - 524 / H, x_title, ha="center", va="center", fontsize=11, color="#111111")
fig.text(587 / W, 1 - 851 / H, x_title, ha="center", va="center", fontsize=11, color="#111111")
fig.text(13 / W, 1 - 275 / H, y_title, ha="center", va="center", rotation=90, fontsize=11,
         color="#111111")
fig.text(13 / W, 1 - 716 / H, y_title, ha="center", va="center", rotation=90, fontsize=11,
         color="#111111")

fig.savefig("out.png", dpi=100)
